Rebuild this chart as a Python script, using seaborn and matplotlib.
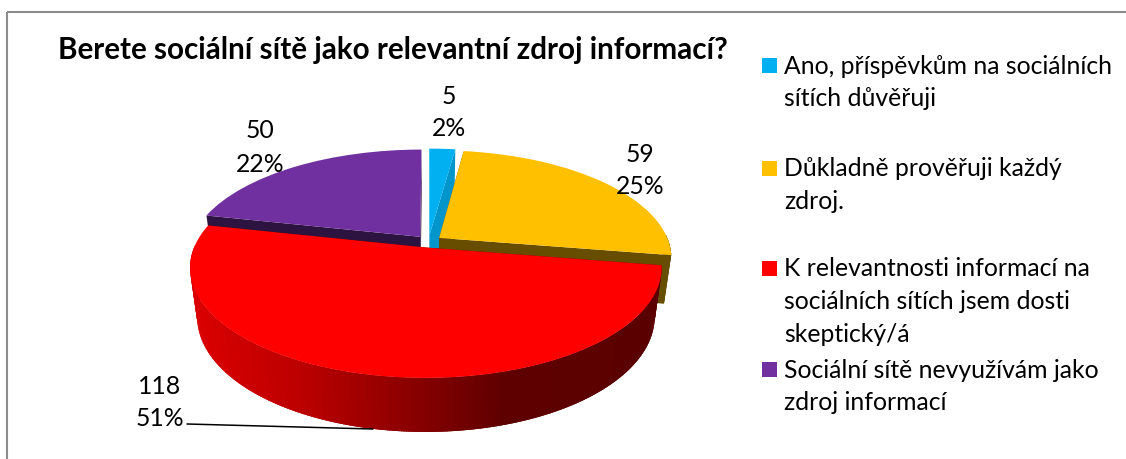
import numpy as np
import matplotlib
matplotlib.use("Agg")
import matplotlib.pyplot as plt
import matplotlib.transforms as mtrans
from matplotlib.colors import LinearSegmentedColormap
from matplotlib.patches import Polygon, Rectangle
import seaborn as sns

title = "Berete sociální sítě jako relevantní zdroj informací?"
categories = ["Ano, příspěvkům na sociálních\nsítích důvěřuji",
              "Důkladně prověřuji každý\nzdroj.",
              "K relevantnosti informací na\nsociálních sítích jsem dosti\nskeptický/á",
              "Sociální sítě nevyužívám jako\nzdroj informací"]
values = [5, 59, 118, 50]
percent_labels = ["2%", "25%", "51%", "22%"]
colors = ["#00B0F0", "#FFC000", "#FF0000", "#7030A0"]
wall_colors = ["#0096CC", "#664D00", "#5A0000", "#2D1340"]

sns.set_theme(style="white")
FONT = "Lato"
plt.rcParams["font.family"] = [FONT, "DejaVu Sans"]
W, H = 1126, 459
fig = plt.figure(figsize=(W / 100, H / 100), dpi=100, facecolor="white")
ax = fig.add_axes([0, 0, 1, 1])

# layout of the projected pie, in pixels
CX, CY, SX, SY, K = 428.5, 241.5, 229.5, 104.5, 0.18
DEPTH, BOT_X, BOT_Y = 48.0, 0.97, 1.044
EXPLODE = 0.058


class Persp(mtrans.Transform):
    input_dims = output_dims = 2
    is_separable = False
    has_inverse = False

    def __init__(self, low=False):
        super().__init__()
        self.low = low

    def transform_non_affine(self, xy):
        xy = np.asarray(xy, float)
        w = 1 + K * xy[:, 1]
        sx = SX * (BOT_X if self.low else 1)
        sy = SY * (BOT_Y if self.low else 1)
        cy = CY + (DEPTH if self.low else 0)
        return np.column_stack([CX + sx * xy[:, 0] / w, cy - sy * xy[:, 1] / w])


top_tf, low_tf = Persp(False), Persp(True)

wedges, _ = ax.pie(values, colors=colors, startangle=90, counterclock=False,
                   radius=1, explode=[EXPLODE] * len(values),
                   wedgeprops=dict(linewidth=0))
ax.set_aspect("auto")
ax.set_xlim(0, W)
ax.set_ylim(H, 0)
ax.axis("off")

face_z = {0: 3, 1: 3, 2: 6, 3: 3}
wall_z = {0: 1, 1: 2, 2: 5, 3: 2}
red_grad = LinearSegmentedColormap.from_list(
    "wall", [(0, "#DC0000"), (0.23, "#BC0000"), (0.44, "#900000"),
             (0.66, "#5F0000"), (1, "#5A0000")])


def pts(tf, t, c):
    t = np.radians(np.atleast_1d(t))
    xy = np.column_stack([c[0] + np.cos(t), c[1] + np.sin(t)])
    return tf.transform(xy)


for i, w in enumerate(wedges):
    c = w.center
    w.set_transform(top_tf + ax.transData)
    w.set_zorder(face_z[i])
    t1, t2 = w.theta1, w.theta2
    # the two flat cut faces
    for t in (t1, t2):
        tip_top = top_tf.transform([c])[0]
        tip_low = low_tf.transform([c])[0]
        a, b = pts(top_tf, t, c)[0], pts(low_tf, t, c)[0]
        ax.add_patch(Polygon([tip_top, a, b, tip_low], closed=True, fc=wall_colors[i],
                             ec="none", zorder=wall_z[i]))
    # the curved outer wall: overlapping strips, painted one over the next, so no seams show
    th = np.linspace(t1, t2, max(int(t2 - t1) * 2, 2))
    step = th[1] - th[0]
    for a0 in th[:-1]:
        a1 = min(a0 + 2.5 * step, t2)
        if np.sin(np.radians(a0 + step / 2)) > 0.02:
            continue
        p = np.vstack([pts(top_tf, [a0, a1], c), pts(low_tf, [a1, a0], c)])
        if i == 2:
            mid = pts(low_tf, a0 + step / 2, c)[0, 0]
            col = red_grad((mid - 195) / (660 - 195))
        else:
            col = wall_colors[i]
        ax.add_patch(Polygon(p, closed=True, fc=col, ec="none", zorder=wall_z[i]))

FS = 17.8
# data labels
lab_xy = [(449, 96, 129), (640, 154, 187), (160, 386, 419), (260, 131, 164)]
for (x, y1, y2), v, p in zip(lab_xy, values, percent_labels):
    ax.text(x, y1, str(v), ha="center", va="center", fontsize=FS, color="black", zorder=8)
    ax.text(x, y2, p, ha="center", va="center", fontsize=FS, color="black", zorder=8)
ax.plot([187, 373], [424, 429], color="black", lw=1.1, zorder=7)

# title
ax.text(58, 49.5, title, ha="left", va="center", fontsize=21.3, fontweight="bold",
        color="black", zorder=8)

# legend
leg_y = [65, 168, 268, 369]
for y, lab, col in zip(leg_y, categories, colors):
    ax.add_patch(Rectangle((762, y - 7.5), 15, 15, fc=col, ec="none", zorder=8))
    for j, line in enumerate(lab.split("\n")):
        ax.text(784, y + 1 + j * 32.7, line, ha="left", va="center", fontsize=FS,
                color="black", zorder=8)

# chart frame: only the top and the left edges show in the crop
ax.plot([6.5, W], [12, 12], color="#8C8C8C", lw=1.5, zorder=9, solid_capstyle="butt")
ax.plot([6.5, 6.5], [12, H], color="#8C8C8C", lw=1.5, zorder=9, solid_capstyle="butt")

fig.savefig("out.png", dpi=100, facecolor="white")
